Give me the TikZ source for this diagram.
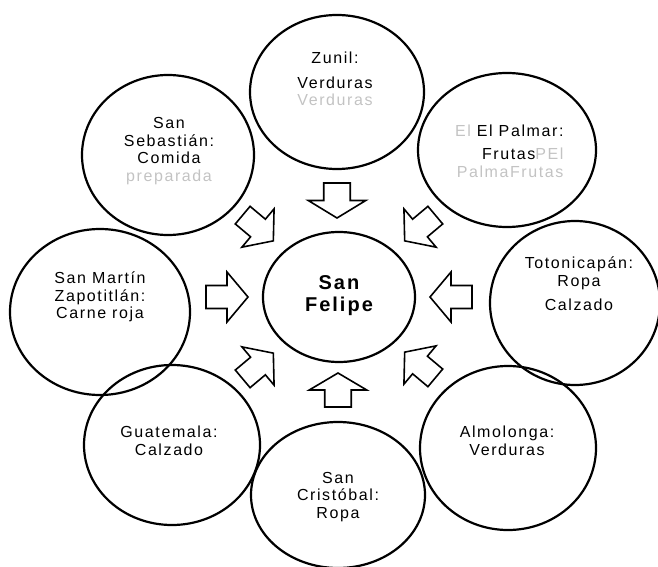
\documentclass[tikz,border=0pt]{standalone}
\usepackage{fontspec}
\setmainfont{Liberation Sans}[LetterSpace=10]
\usetikzlibrary{shapes.geometric}
\definecolor{ghost}{RGB}{195,195,195}

\begin{document}
\begin{tikzpicture}[x=1pt,y=-1pt,
  town/.style={draw,ellipse,line width=2.2pt,inner sep=0pt},
  goods/.style={align=center,font=\fontsize{16}{17.5}\selectfont},
  inflow/.style={draw,line width=1.6pt,line join=miter}]
  \useasboundingbox (0,0) rectangle (658,567);
  % towns round the market
  \foreach \name/\x/\y/\rx/\ry in {zunil/337/92/87/77,palmar/507/150/89/77,sebastian/168/155/86/80,
    martin/100/312/90/83,toto/575/303/85/82,guate/172/445/88/80,almo/508/448/88/82,cristo/338/495/87/73}{
    \node[town,minimum width=2*\rx,minimum height=2*\ry] (\name) at (\x,\y) {};
  }
  \node[town,minimum width=152,minimum height=130] (felipe) at (339,297) {};
  %% what each town sells
  \node[goods] (zunil-t) at (335,79) {Zunil:\\[7pt] Verduras\\ \textcolor{ghost}{Verduras}};
  \node[goods,align=right,anchor=east] (palmar-t) at (567,151)
    {\textcolor{ghost}{El} El Palmar:\\[6pt] Frutas\textcolor{ghost}{PEl}\\ \textcolor{ghost}{PalmaFrutas}};
  \node[goods] (sebastian-t) at (169,151) {San\\ Sebastián:\\ Comida\\ \textcolor{ghost}{preparada}};
  \node[goods] (martin-t) at (100,297) {San Martín\\ Zapotitlán:\\ Carne roja};
  \node[goods] (toto-t) at (579,284) {Totonicapán:\\ Ropa\\[7pt] Calzado};
  \node[goods] (guate-t) at (169,441) {Guatemala:\\ Calzado};
  \node[goods] (almo-t) at (507,441) {Almolonga:\\ Verduras};
  \node[goods] (cristo-t) at (338,497) {San\\ Cristóbal:\\ Ropa};
  \node[align=center,font=\fontsize{20}{22}\selectfont\bfseries] (felipe-t) at (339,296) {San\\ Felipe};
  %% block arrows pointing in
  \foreach \x/\y/\a/\sx/\sy in {337/200.5/-90/0.875/1.15,338/390/90/0.85/1.15,227/297/0/1.05/1,451/297/180/1.05/1,
    258/228/-40/1/1,420/228/-140/1/1,258/366/40/1/1,420/365/140/1/1}{
    \draw[inflow,shift={(\x,\y)},rotate=\a,xscale=\sx,yscale=\sy]
      (-20,-11.5) -- (0,-11.5) -- (0,-25) -- (20,0) -- (0,25) -- (0,11.5) -- (-20,11.5) -- cycle;
  }
\end{tikzpicture}
\end{document}
